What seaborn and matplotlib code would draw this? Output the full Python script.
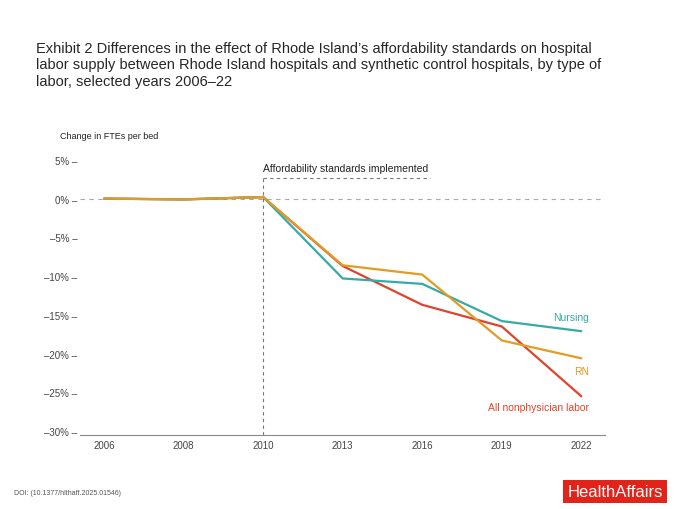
import matplotlib
matplotlib.use("Agg")
import matplotlib.pyplot as plt
import seaborn as sns
import pandas as pd

years = ["2006", "2008", "2010", "2013", "2016", "2019", "2022"]
all_labor = [0.0, -0.1, 0.2, -8.7, -13.7, -16.5, -25.5]
nursing = [0.0, -0.1, 0.2, -10.3, -11.0, -15.8, -17.1]
rn = [0.0, -0.1, 0.2, -8.6, -9.8, -18.3, -20.6]
yticks = [5, 0, -5, -10, -15, -20, -25, -30]

sns.set_style("white")
plt.rcParams['font.family'] = ['Liberation Sans', 'DejaVu Sans']

df = pd.DataFrame({"x": list(range(len(years))) * 3,
                   "v": all_labor + nursing + rn,
                   "s": ["All"] * 7 + ["Nursing"] * 7 + ["RN"] * 7})
pal = {"All": "#e0432b", "Nursing": "#35aaa8", "RN": "#e39b22"}

fig = plt.figure(figsize=(6.8, 5.1), dpi=100)
ax = fig.add_axes([0.118, 0.145, 0.772, 0.57])
sns.lineplot(data=df, x="x", y="v", hue="s", palette=pal, ax=ax, legend=False, lw=1.6)

ax.set_xlim(-0.3, 6.3)
ax.set_ylim(-30.5, 7)
ax.set_xticks(range(len(years)))
ax.set_xticklabels(years, fontsize=7, color="#444444")
ax.set_yticks(yticks)
ax.set_yticklabels([f"{t}% –" if t >= 0 else f"–{-t}% –" for t in yticks], fontsize=7, color="#444444")
ax.tick_params(axis="y", length=0, pad=2)
ax.tick_params(axis="x", length=4, color="#888888", direction="in")
for s in ["top", "right", "left"]:
    ax.spines[s].set_visible(False)
ax.spines["bottom"].set_color("#888888")
ax.set_xlabel("")
ax.set_ylabel("")
ax.axhline(0, color="#aaaaaa", ls=(0, (4, 4)), lw=0.8, zorder=0)
ax.plot([2, 2], [-30.5, 2.7], color="#777777", ls=(0, (3, 3)), lw=0.8, zorder=0)
ax.plot([2, 4.1], [2.7, 2.7], color="#777777", ls=(0, (3, 3)), lw=0.8, zorder=0)
ax.text(2.0, 3.3, "Affordability standards implemented", fontsize=7.5, color="#222222", va="bottom")
ax.text(-0.55, 7.5, "Change in FTEs per bed", fontsize=6.5, color="#222222", va="bottom")
ax.text(6.1, -15.9, "Nursing", color=pal["Nursing"], fontsize=7.5, ha="right", va="bottom")
ax.text(6.1, -21.6, "RN", color=pal["RN"], fontsize=7.5, ha="right", va="top")
ax.text(6.1, -26.3, "All nonphysician labor", color=pal["All"], fontsize=7.5, ha="right", va="top")

fig.text(0.053, 0.825, "Exhibit 2 Differences in the effect of Rhode Island\u2019s affordability standards on hospital\n"
         "labor supply between Rhode Island hospitals and synthetic control hospitals, by type of\n"
         "labor, selected years 2006\u201322", fontsize=10.5, va="bottom", linespacing=1.25)
fig.text(0.02, 0.03, "DOI: (10.1377/hlthaff.2025.01546)", fontsize=5, color="#555555")
fig.text(0.975, 0.025, "HealthAffairs", fontsize=12, color="white", ha="right",
         bbox=dict(facecolor="#e2231a", edgecolor="none", pad=3))
fig.savefig("out.png", dpi=100)
